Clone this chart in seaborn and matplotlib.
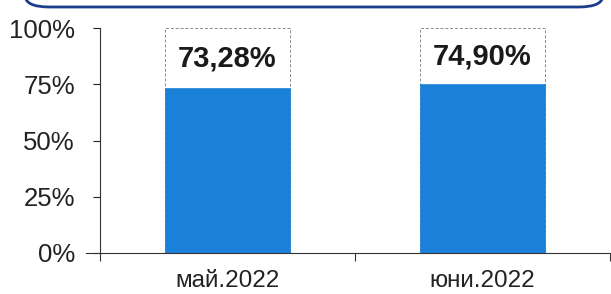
import matplotlib
matplotlib.use('Agg')
import matplotlib.pyplot as plt
from matplotlib.patches import FancyBboxPatch
from matplotlib.ticker import FixedLocator, PercentFormatter
import seaborn as sns

months = ['май.2022', 'юни.2022']
values = [73.28, 74.90]
totals = [100, 100]
labels = ['73,28%', '74,90%']

sns.set_style('ticks')
plt.rcParams['font.family'] = ['Liberation Sans', 'DejaVu Sans']

fig = plt.figure(figsize=(6.11, 2.94), dpi=100)
ax = fig.add_axes([100/611, 1 - 253/294, 510/611, 225/294])

# white 100% frame behind the blue share
sns.barplot(x=months, y=totals, color='white', width=0.49, saturation=1,
            edgecolor='#8a8a8a', linewidth=0.7, linestyle=(0, (3, 2)), ax=ax)
sns.barplot(x=months, y=values, color='#1b80d8', width=0.49, saturation=1,
            edgecolor='#1b80d8', linewidth=0.5, ax=ax)

for i, (v, t) in enumerate(zip(values, labels)):
    ax.text(i, (v + 100) / 2, t, ha='center', va='center',
            fontsize=21, fontweight='bold', color='#1a1a1a')

ax.set_xlim(-0.5, 1.5)
ax.set_ylim(0, 100)
ax.set_yticks([0, 25, 50, 75, 100])
ax.yaxis.set_major_formatter(PercentFormatter(decimals=0))
ax.tick_params(axis='y', labelsize=18.5, length=5, width=0.8, colors='#222222', pad=13)
ax.tick_params(axis='x', which='major', labelsize=17.5, length=0, pad=12, colors='#222222')
ax.xaxis.set_minor_locator(FixedLocator([-0.5, 0.5, 1.5]))
ax.tick_params(axis='x', which='minor', length=6, width=0.8, color='#333333')
ax.set_xlabel('')
ax.set_ylabel('')
sns.despine(ax=ax)
for s in ['left', 'bottom']:
    ax.spines[s].set_linewidth(0.8)
    ax.spines[s].set_color('#333333')
ax.spines['bottom'].set_bounds(-0.555, 1.5)

# rounded title box cut off at the top edge
box = FancyBboxPatch((25/611, 1 - 7/294), 578/611, 0.2,
                     boxstyle='round,pad=0,rounding_size=0.04',
                     transform=fig.transFigure, facecolor='white',
                     edgecolor='#1c3c8c', linewidth=2, clip_on=False)
fig.patches.append(box)

fig.savefig('out.png', dpi=100)
